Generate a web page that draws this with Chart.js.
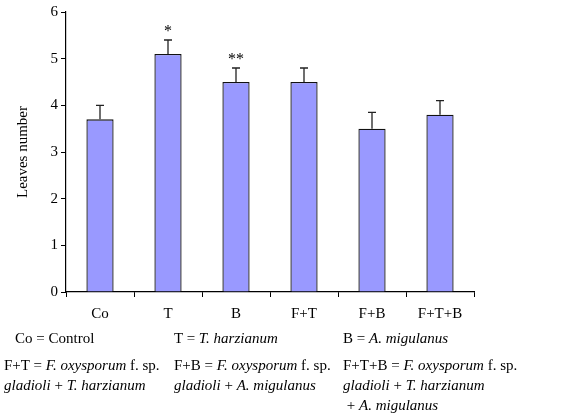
<!DOCTYPE html>
<html>
<head>
<meta charset="utf-8">
<script src="https://cdn.jsdelivr.net/npm/chart.js@4"></script>
<style>
  body { margin: 0; background: #fff; }
  #wrap { position: relative; width: 576px; height: 417px; }
  #chart { position: absolute; left: 0; top: 0; }
  .note { position: absolute; font-family: "Liberation Serif", "Times New Roman", serif; font-size: 15px; color: #000; white-space: nowrap; line-height: 20px; }
</style>
</head>
<body>
<div id="wrap">
  <canvas id="chart" width="576" height="417"></canvas>
  <div class="note" style="left:15px; top:328px;">Co = Control</div>
  <div class="note" style="left:174px; top:328px;">T = <i>T. harzianum</i></div>
  <div class="note" style="left:343px; top:328px;">B = <i>A. migulanus</i></div>
  <div class="note" style="left:4px; top:355px;">F+T = <i>F. oxysporum</i> f. sp.<br><i>gladioli</i> + <i>T. harzianum</i></div>
  <div class="note" style="left:174px; top:355px;">F+B = <i>F. oxysporum</i> f. sp.<br><i>gladioli</i> + <i>A. migulanus</i></div>
  <div class="note" style="left:343px; top:355px;">F+T+B = <i>F. oxysporum</i> f. sp.<br><i>gladioli</i> + <i>T. harzianum</i><br>&nbsp;+ <i>A. migulanus</i></div>
</div>
<script>
const categories = ['Co', 'T', 'B', 'F+T', 'F+B', 'F+T+B'];
const leaves = [3.7, 5.1, 4.5, 4.5, 3.5, 3.8];
const errorTop = [4.0, 5.4, 4.8, 4.8, 3.85, 4.1];
const marks = ['', '*', '**', '', '', ''];
const yTicks = [0, 1, 2, 3, 4, 5, 6];

const serif = '"Liberation Serif", "Times New Roman", serif';

// error bars + significance stars
const errorBars = {
    id: 'errorBars',
    afterDatasetsDraw(chart) {
        const ctx = chart.ctx;
        const y = chart.scales.y;
        const meta = chart.getDatasetMeta(0);
        ctx.save();
        ctx.strokeStyle = '#222';
        ctx.lineWidth = 1.3;
        meta.data.forEach((bar, i) => {
            const top = y.getPixelForValue(errorTop[i]);
            ctx.beginPath();
            ctx.moveTo(bar.x, bar.y);
            ctx.lineTo(bar.x, top);
            ctx.moveTo(bar.x - 4, top);
            ctx.lineTo(bar.x + 4, top);
            ctx.stroke();
            if (marks[i]) {
                ctx.fillStyle = '#000';
                ctx.font = '16px ' + serif;
                ctx.textAlign = 'center';
                ctx.textBaseline = 'middle';
                ctx.fillText(marks[i], bar.x, top - 8);
            }
        });
        ctx.restore();
    }
};

new Chart(document.getElementById('chart'), {
    type: 'bar',
    data: {
        labels: categories,
        datasets: [{
            data: leaves,
            backgroundColor: '#9999ff',
            borderColor: '#111',
            borderWidth: 1.3,
            categoryPercentage: 0.8,
            barPercentage: 0.5
        }]
    },
    options: {
        responsive: false,
        animation: false,
        layout: { padding: { left: 14, top: 11, right: 102, bottom: 0 } },
        plugins: { legend: { display: false }, tooltip: { enabled: false } },
        scales: {
            x: {
                offset: true,
                grid: { offset: true, drawOnChartArea: false, color: '#000', tickLength: 5 },
                border: { color: '#000', width: 1.2 },
                ticks: { color: '#000', font: { family: serif, size: 15 }, padding: 8 },
                afterFit: (s) => { s.height = 125; }
            },
            y: {
                min: 0,
                max: 6,
                afterBuildTicks: (s) => { s.ticks = yTicks.map(v => ({ value: v })); },
                grid: { drawOnChartArea: false, color: '#000', tickLength: 5 },
                border: { color: '#000', width: 1.2 },
                ticks: { color: '#000', font: { family: serif, size: 15 }, padding: 3 },
                title: { display: true, text: 'Leaves number', color: '#000', font: { family: serif, size: 15 }, padding: 0 },
                afterFit: (s) => { s.width = 52; }
            }
        }
    },
    plugins: [errorBars]
});
</script>
</body>
</html>
